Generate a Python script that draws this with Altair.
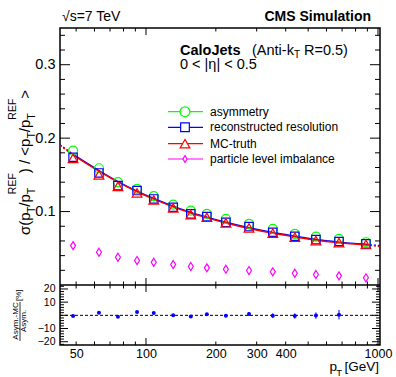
import altair as alt
import pandas as pd

F = "Liberation Sans"

# ---------------- data ----------------
pt = [48.5, 62.7, 75.7, 91.5, 108, 131, 156, 183, 221, 278, 352, 438, 540, 679, 887]
asym = [0.183, 0.159, 0.140, 0.131, 0.121, 0.1095, 0.1014, 0.0969, 0.090, 0.0833,
        0.0765, 0.0697, 0.066, 0.0628, 0.0582]
reco = [0.174, 0.1526, 0.1354, 0.1286, 0.1172, 0.1059, 0.0969, 0.0932, 0.0854, 0.0796,
        0.0718, 0.0664, 0.0619, 0.0592, 0.056]
mctruth = [0.1725, 0.150, 0.1344, 0.1254, 0.1159, 0.105, 0.0959, 0.0922, 0.0846, 0.0778,
           0.0705, 0.065, 0.0605, 0.0578, 0.0551]
plimb = [0.0537, 0.0446, 0.0378, 0.0333, 0.031, 0.0279, 0.0252, 0.0234, 0.0215, 0.0197,
         0.018, 0.016, 0.0143, 0.0125, 0.0098]
fit_val = [0.177, 0.155, 0.140, 0.127, 0.117, 0.1065, 0.098, 0.0915, 0.0845, 0.077,
           0.0705, 0.0655, 0.061, 0.0575, 0.0545]
ext_left_pt = [42.6, 48.5]
ext_left_val = [0.190, 0.177]
ext_right_pt = [887, 1020]
ext_right_val = [0.0545, 0.0525]

ratio_pt = [48.5, 62.7, 75.7, 91.5, 108, 131, 156, 183, 221, 278, 352, 438, 540, 679]
ratio_val = [-0.5, 2.0, -1.0, 2.5, 1.8, 0.0, -0.8, 0.8, -0.3, 1.0, -0.3, -0.5, -0.2, 0.5]
ratio_err = [0.5, 0.6, 0.6, 0.7, 0.7, 0.6, 0.6, 0.7, 0.7, 1.5, 1.8, 2.0, 2.4, 3.6]
ratio_zero = [0]

x_labels = [50, 100, 200, 300, 400, 1000]
x_major = [100, 1000]
x_minor = [50, 60, 70, 80, 90, 200, 300, 400, 500, 600, 700, 800, 900]
main_major = [0.1, 0.2, 0.3]
main_minor = [0.02, 0.04, 0.06, 0.08, 0.12, 0.14, 0.16, 0.18, 0.22, 0.24, 0.26, 0.28, 0.32, 0.34]
ratio_major = [-20, -10, 0, 10, 20]
ratio_labels = [-20, -10, 10, 20]
ratio_minor = [-22, -18, -16, -14, -12, -8, -6, -4, -2, 2, 4, 6, 8, 12, 14, 16, 18, 22]

legend_labels = ["asymmetry", "reconstructed resolution", "MC-truth", "particle level imbalance"]

# ---------------- layout ----------------
W, HM, HR = 320, 257, 60
H = HM + HR

xs = alt.Scale(type="log", domain=[42.6, 1020], nice=False)
ys_main = alt.Scale(domain=[0, 0.35], range=[HM, 0], nice=False, zero=False)
ys_ratio = alt.Scale(domain=[-22.5, 23], range=[H, HM], nice=False, zero=False)

x_axis = alt.Axis(values=x_labels, ticks=False, tickSize=0, domain=False, grid=False,
                  labelFont=F, labelFontSize=12.5, labelColor="black", labelPadding=2,
                  labelFlush=False, labelOverlap=False, format="d", title=None)


def X(field):
    return alt.X(field, scale=xs, axis=x_axis)


def one():
    return pd.DataFrame({"k": [0]})


main = pd.DataFrame({"pt": pt, "asym": asym, "reco": reco, "mc": mctruth,
                     "pl": plimb, "fit": fit_val})
ratio = pd.DataFrame({"pt": ratio_pt, "r": ratio_val, "e": ratio_err})

layers = []

# ---------------- ticks (inside, ROOT style) ----------------
def xticks(vals, y0, y1):
    return alt.Chart(pd.DataFrame({"v": vals})).mark_rule(color="black", strokeWidth=1).encode(
        x=X("v:Q"), y=alt.value(y0), y2=alt.value(y1))

for vals, ln in [(x_major, 7), (x_minor, 3.5)]:
    layers += [xticks(vals, 0, ln), xticks(vals, HM, HM - ln),
               xticks(vals, HM, HM + ln), xticks(vals, H, H - ln)]


def yticks(vals, scale, ln, axis=None):
    d = pd.DataFrame({"v": vals})
    out = []
    for a, b in [(0, ln), (W, W - ln)]:
        out.append(alt.Chart(d).mark_rule(color="black", strokeWidth=1).encode(
            x=alt.value(a), x2=alt.value(b),
            y=alt.Y("v:Q", scale=scale, axis=axis)))
        axis = None
    return out

main_axis = alt.Axis(values=main_major, ticks=False, tickSize=0, domain=False, grid=False,
                     labelFont=F, labelFontSize=14.5, labelColor="black", labelPadding=5,
                     format=".1f", title=None)
ratio_axis = alt.Axis(values=ratio_labels, ticks=False, tickSize=0, domain=False, grid=False,
                      labelFont=F, labelFontSize=10.5, labelColor="black", labelPadding=5,
                      format="d", title=None, orient="left")
layers += yticks(main_major, ys_main, 10, main_axis)
layers += yticks(main_minor, ys_main, 5)
layers += yticks(ratio_major, ys_ratio, 8, ratio_axis)
layers += yticks(ratio_minor, ys_ratio, 4)

# separator between panels
layers.append(alt.Chart(one()).mark_rule(color="black", strokeWidth=1.5).encode(
    x=alt.value(0), x2=alt.value(W), y=alt.value(HM)))

# ---------------- fit lines ----------------
def YM(f):
    return alt.Y(f, scale=ys_main, axis=None)

for col, off in [("#0000ff", -0.7), ("#ff0000", 0)]:
    layers.append(alt.Chart(main).mark_line(color=col, strokeWidth=1.4, interpolate="monotone",
                                            yOffset=off).encode(x=X("pt:Q"), y=YM("fit:Q")))
    for xx, yy in [(ext_left_pt, ext_left_val), (ext_right_pt, ext_right_val)]:
        layers.append(alt.Chart(pd.DataFrame({"pt": xx, "fit": yy})).mark_line(
            color=col, strokeWidth=1.4, strokeDash=[2, 2], yOffset=off).encode(
            x=X("pt:Q"), y=YM("fit:Q")))

# ---------------- markers ----------------
DIAMOND = "M0,-1L0.62,0L0,1L-0.62,0Z"
layers.append(alt.Chart(main).mark_point(shape="circle", filled=False, color="#00ff00",
                                         size=81, strokeWidth=1.2, opacity=1).encode(
    x=X("pt:Q"), y=YM("asym:Q")))
layers.append(alt.Chart(main).mark_point(shape="square", filled=False, color="#0000ff",
                                         size=70, strokeWidth=1.2, opacity=1).encode(
    x=X("pt:Q"), y=YM("reco:Q")))
layers.append(alt.Chart(main).mark_point(shape="triangle-up", filled=False, color="#ff0000",
                                         size=95, strokeWidth=1.2, opacity=1).encode(
    x=X("pt:Q"), y=YM("mc:Q")))
layers.append(alt.Chart(main).mark_point(shape=DIAMOND, filled=False, color="#ff00ff",
                                         size=64, strokeWidth=1.2, opacity=1).encode(
    x=X("pt:Q"), y=YM("pl:Q")))

# ---------------- ratio panel ----------------
layers.append(alt.Chart(pd.DataFrame({"z": ratio_zero})).mark_rule(
    color="black", strokeWidth=1, strokeDash=[3, 2]).encode(
    x=alt.value(0), x2=alt.value(W), y=alt.Y("z:Q", scale=ys_ratio, axis=None)))
layers.append(alt.Chart(ratio).transform_calculate(
    lo="datum.r - datum.e", hi="datum.r + datum.e").mark_rule(
    color="#0000ff", strokeWidth=1).encode(
    x=X("pt:Q"), y=alt.Y("lo:Q", scale=ys_ratio, axis=None), y2="hi:Q"))
layers.append(alt.Chart(ratio).mark_point(shape="circle", filled=True, color="#0000ff",
                                          size=16, opacity=1).encode(
    x=X("pt:Q"), y=alt.Y("r:Q", scale=ys_ratio, axis=None)))

# ---------------- legend ----------------
leg_y = [83.7, 99.3, 115.7, 131]
leg_col = ["#00ff00", "#0000ff", "#ff0000", "#ff00ff"]
leg_shape = ["circle", "square", "triangle-up", DIAMOND]
leg_size = [95, 75, 95, 45]
for lab, yy, c, s, sz in zip(legend_labels, leg_y, leg_col, leg_shape, leg_size):
    d = pd.DataFrame({"label": [lab]})
    layers.append(alt.Chart(d).mark_rule(color=c, strokeWidth=1.2).encode(
        x=alt.value(108), x2=alt.value(143), y=alt.value(yy)))
    layers.append(alt.Chart(d).mark_point(shape=s, filled=True, fill="white", color=c,
                                          stroke=c, size=sz, strokeWidth=1.2, opacity=1).encode(
        x=alt.value(125), y=alt.value(yy)))
    layers.append(alt.Chart(d).mark_text(font=F, fontSize=12, align="left", baseline="middle",
                                         color="black").encode(
        x=alt.value(150), y=alt.value(yy), text="label:N"))


# ---------------- text annotations ----------------
def txt(s, x, y, size=14.5, bold=False, angle=0, align="left", baseline="alphabetic"):
    kw = dict(font=F, fontSize=size, align=align, baseline=baseline, color="black",
              text=s)
    if bold:
        kw["fontWeight"] = "bold"
    if angle:
        kw["angle"] = angle
    return alt.Chart(one()).mark_text(**kw).encode(x=alt.value(x), y=alt.value(y))

layers += [
    txt("√s=7 TeV", 2, -7.5, size=14),
    txt("CMS Simulation", 311, -7.3, size=14, bold=True, align="right"),
    txt("CaloJets", 120, 27, bold=True),
    txt("(Anti-k", 192, 27),
    txt("T", 234, 30, size=10),
    txt("R=0.5)", 244, 27),
    txt("0 < |η| < 0.5", 120, 40.5),
]

# y title (rotated, pieces with sub/superscripts)
BM, BSUB, BSUP = -30.5, -25, -44
FS, FSS = 15, 10.5
layers += [
    txt("σ(p", BM, 207, size=FS, angle=270),
    txt("T", BSUB, 185.1, size=FSS, angle=270),
    txt("/p", BM, 178.7, size=FS, angle=270),
    txt("T", BSUB, 166.2, size=FSS, angle=270),
    txt("REF", BSUP, 166.2, size=FSS, angle=270),
    txt(") / <p", BM, 145.2, size=FS, angle=270),
    txt("T", BSUB, 110.6, size=FSS, angle=270),
    txt("/p", BM, 104.2, size=FS, angle=270),
    txt("T", BSUB, 91.7, size=FSS, angle=270),
    txt("REF", BSUP, 91.7, size=FSS, angle=270),
    txt(">", BM, 70.7, size=FS, angle=270),
]

# x title
layers += [
    txt("[GeV]", 319, 342.5, size=13.5, align="right"),
    txt("T", 282, 348, size=9.5, align="right"),
    txt("p", 277, 342.5, size=13.5, align="right"),
]

# ratio y title (fraction)
layers += [
    txt("Asym.-MC", -42, 293, size=8, angle=270, align="center"),
    txt("Asym.", -34, 293, size=8, angle=270, align="center"),
    txt("[%]", -39, 273, size=8, angle=270),
    alt.Chart(one()).mark_rule(color="black", strokeWidth=0.8).encode(
        x=alt.value(-40), y=alt.value(274), y2=alt.value(313)),
]

chart = alt.layer(*layers).resolve_scale(y="independent").properties(
    width=W, height=H,
    padding={"left": 60, "top": 28, "right": 16, "bottom": 32},
    autosize=alt.AutoSizeParams(type="none"),
    background="white",
).configure_view(stroke="black", strokeWidth=1.5)

chart.save("out.html", embed_options={"renderer": "svg", "actions": False})
